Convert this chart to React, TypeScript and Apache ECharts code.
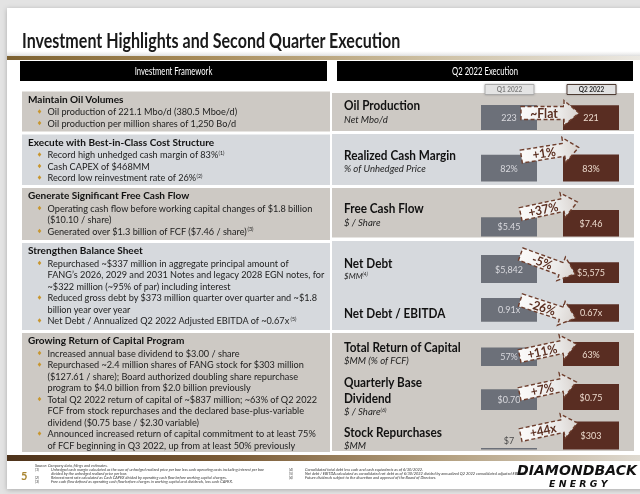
import React, { useEffect, useRef } from "react";
import * as echarts from "echarts";

// ---------- content ----------
const TITLE = "Investment Highlights and Second Quarter Execution";
const LEFT_HEADER = "Investment Framework";
const RIGHT_HEADER = "Q2 2022 Execution";
const periods = ["Q1 2022", "Q2 2022"];

const frameworkHeadings = [
  "Maintain Oil Volumes",
  "Execute with Best-in-Class Cost Structure",
  "Generate Significant Free Cash Flow",
  "Strengthen Balance Sheet",
  "Growing Return of Capital Program",
];
const frameworkBullets: string[][][] = [
  [["Oil production of 221.1 Mbo/d (380.5 Mboe/d)"], ["Oil production per million shares of 1,250 Bo/d"]],
  [["Record high unhedged cash margin of 83%{s|(1)}"], ["Cash CAPEX of $468MM"], ["Record low reinvestment rate of 26%{s|(2)}"]],
  [["Operating cash flow before working capital changes of $1.8 billion", "($10.10 / share)"], ["Generated over $1.3 billion of FCF ($7.46 / share){s|(3)}"]],
  [
    ["Repurchased ~$337 million in aggregate principal amount of", "FANG’s 2026, 2029 and 2031 Notes and legacy 2028 EGN notes, for", "~$322 million (~95% of par) including interest"],
    ["Reduced gross debt by $373 million quarter over quarter and ~$1.8", "billion year over year"],
    ["Net Debt / Annualized Q2 2022 Adjusted EBITDA of ~0.67x{s|(5)}"],
  ],
  [
    ["Increased annual base dividend to $3.00 / share"],
    ["Repurchased ~2.4 million shares of FANG stock for $303 million", "($127.61 / share); Board authorized doubling share repurchase", "program to $4.0 billion from $2.0 billion previously"],
    ["Total Q2 2022 return of capital of ~$837 million; ~63% of Q2 2022", "FCF from stock repurchases and the declared base-plus-variable", "dividend ($0.75 base / $2.30 variable)"],
    ["Announced increased return of capital commitment to at least 75%", "of FCF beginning in Q3 2022, up from at least 50% previously"],
  ],
];

const metricTitles = [["Oil Production"], ["Realized Cash Margin"], ["Free Cash Flow"], ["Net Debt"], ["Net Debt / EBITDA"], ["Total Return of Capital"], ["Quarterly Base", "Dividend"], ["Stock Repurchases"]];
const metricUnits = ["Net Mbo/d", "% of Unhedged Price", "$ / Share", "$MM{s|(4)}", "", "$MM (% of FCF)", "$ / Share{s|(6)}", "$MM"];
const q1Values = [223, 82, 5.45, 5842, 0.91, 57, 0.7, 7];
const q2Values = [221, 83, 7.46, 5575, 0.67, 63, 0.75, 303];
const q1Labels = ["223", "82%", "$5.45", "$5,842", "0.91x", "57%", "$0.70", "$7"];
const q2Labels = ["221", "83%", "$7.46", "$5,575", "0.67x", "63%", "$0.75", "$303"];
const changeLabels = ["~Flat", "+1%", "+37%", "-5%", "-26%", "+11%", "+7%", "+44x"];

const footSource = "Source: Company data, filings and estimates.";
const footLeft = [
  ["(1)", "Unhedged cash margin calculated as the sum of unhedged realized price per boe less cash operating costs including interest per boe", "divided by the unhedged realized price per boe."],
  ["(2)", "Reinvestment rate calculated as Cash CAPEX divided by operating cash flow before working capital changes."],
  ["(3)", "Free cash flow defined as operating cash flow before changes in working capital and dividends, less cash CAPEX."],
];
const footRight = [
  ["(4)", "Consolidated total debt less cash and cash equivalents as of 6/30/2022."],
  ["(5)", "Net debt / EBITDA calculated as consolidated net debt as of 6/30/2022 divided by annualized Q2 2022 consolidated adjusted EBITDA."],
  ["(6)", "Future dividends subject to the discretion and approval of the Board of Directors."],
];
const PAGE_NO = "5";
const LOGO_TOP = "DIAMONDBACK";
const LOGO_BOTTOM = "E N E R G Y";

// ---------- layout ----------
const leftPanels = [
  { top: 91.5, bottom: 131.5, warm: true },
  { top: 134.5, bottom: 185, warm: false },
  { top: 188, bottom: 240, warm: true },
  { top: 243, bottom: 330, warm: false },
  { top: 333, bottom: 452, warm: true },
];
const rightPanels = [
  { top: 93, bottom: 131, warm: true },
  { top: 134, bottom: 185, warm: false },
  { top: 188, bottom: 237.5, warm: true },
  { top: 241, bottom: 330, warm: false },
  { top: 333, bottom: 451, warm: true },
];
const metricText = [
  { ys: [105.5], unitY: 119.5 },
  { ys: [155], unitY: 169 },
  { ys: [208], unitY: 222.5 },
  { ys: [263.5], unitY: 276 },
  { ys: [313], unitY: 0 },
  { ys: [347.5], unitY: 360.5 },
  { ys: [382, 398.5], unitY: 412 },
  { ys: [432.5], unitY: 446 },
];
const barRows = [
  { base: 130, h: 25, min: 0, q1Out: false },
  { base: 181.5, h: 27, min: 0, q1Out: false },
  { base: 236.5, h: 26.5, min: 0, q1Out: false },
  { base: 283, h: 28, min: 4800, q1Out: false },
  { base: 329.5, h: 31.5, min: -0.3, q1Out: false },
  { base: 366, h: 24, min: 37, q1Out: false },
  { base: 410, h: 26, min: 0.5, q1Out: false },
  { base: 449.5, h: 28, min: 0, q1Out: true },
];
const arrowLayout = [
  { x: 550, y: 113, deg: 0 },
  { x: 550, y: 152, deg: 9 },
  { x: 549, y: 208, deg: 12 },
  { x: 548, y: 264, deg: -20 },
  { x: 548, y: 309, deg: -18 },
  { x: 548, y: 350, deg: 12 },
  { x: 548, y: 388, deg: 12 },
  { x: 549, y: 429, deg: 12 },
];

const F = "Lato, 'Open Sans', sans-serif";
const LOGO_F = "'DejaVu Sans', sans-serif";
const WARM = "#cdc9c4";
const COOL = "#d6d9dd";
const Q1C = "#6c7079";
const Q2C = "#592d22";
const GOLD = "#c8962e";

function measure(text: string, font: string): number {
  try {
    const c = document.createElement("canvas");
    const ctx = c.getContext("2d");
    if (!ctx) return 0;
    ctx.font = font;
    return ctx.measureText(text.replace(/\{s\|([^}]*)\}/g, "$1")).width;
  } catch (e) {
    return 0;
  }
}
function fit(target: number, text: string, font: string, lo = 0.7, hi = 1.1): number {
  const w = measure(text, font);
  if (!w) return 0.9;
  return Math.max(lo, Math.min(hi, target / w));
}

function T(x: number, y: number, text: string, o: any = {}) {
  const size = o.size ?? 9.5;
  const fill = o.fill ?? "#141414";
  const family = o.family ?? F;
  const align = o.align ?? "left";
  return {
    type: "text",
    x,
    y,
    z: o.z ?? 5,
    scaleX: o.sx ?? 1,
    rotation: o.rot ?? 0,
    silent: true,
    style: {
      text,
      fill,
      fontFamily: family,
      fontSize: size,
      fontWeight: o.weight ?? "normal",
      fontStyle: o.italic ? "italic" : "normal",
      textAlign: align,
      textVerticalAlign: "middle",
      align,
      verticalAlign: "middle",
      rich: {
        s: { fontSize: Math.max(3, size * 0.58), fill, fontFamily: family, fontStyle: o.italic ? "italic" : "normal", verticalAlign: "top" },
      },
    },
  };
}

export default function App() {
  const ref = useRef<HTMLDivElement>(null);

  useEffect(() => {
    if (!ref.current) return;
    const chart = echarts.init(ref.current, undefined, { renderer: "svg" });

    const titleSx = fit(379, TITLE, "bold 20px Lato");
    const headSx = fit(96, frameworkHeadings[0], "bold 10px Lato");
    const regSx = fit(190, frameworkBullets[0][0][0], "9.5px Lato");
    const rBoldSx = fit(112, metricTitles[1][0], "bold 12.5px Lato");
    const rItSx = fit(82, metricUnits[1], "italic 9.5px Lato");
    const hdrSx = fit(63, RIGHT_HEADER, "11px Lato");
    const footSx = fit(223, footLeft[0][1], "italic 3.6px Lato");
    const logoSx = fit(120, LOGO_TOP, "italic bold 14px 'DejaVu Sans'", 0.7, 1.3);

    const els: any[] = [];
    // page background and slide
    els.push({ type: "rect", z: 0, silent: true, shape: { x: 0, y: 0, width: 640, height: 494 }, style: { fill: "#e3e3e3" } });
    els.push({
      type: "rect", z: 0, silent: true, shape: { x: 7, y: 8, width: 640, height: 481 },
      style: { fill: "#ffffff", shadowBlur: 5, shadowColor: "rgba(0,0,0,0.25)", shadowOffsetX: 0, shadowOffsetY: 1 },
    });
    // title
    els.push(T(22, 40.5, TITLE, { size: 20, weight: "bold", sx: titleSx, fill: "#1a1a1a" }));
    // shade + gold underline
    els.push({
      type: "rect", z: 1, silent: true, shape: { x: 7, y: 51, width: 633, height: 5 },
      style: { fill: { type: "linear", x: 0, y: 0, x2: 0, y2: 1, colorStops: [{ offset: 0, color: "rgba(220,220,220,0)" }, { offset: 1, color: "rgba(200,200,200,0.6)" }] } },
    });
    els.push({
      type: "rect", z: 1, silent: true, shape: { x: 7, y: 56, width: 633, height: 4 },
      style: { fill: { type: "linear", x: 0, y: 0, x2: 1, y2: 0, colorStops: [{ offset: 0, color: "#7d6232" }, { offset: 0.3, color: "#a68a58" }, { offset: 0.65, color: "#cbbd9f" }, { offset: 1, color: "#ebe8e2" }] } },
    });
    // section headers
    els.push({ type: "rect", z: 1, silent: true, shape: { x: 20, y: 61, width: 307, height: 20 }, style: { fill: "#000" } });
    els.push(T(173.5, 71, LEFT_HEADER, { size: 11, fill: "#ffffff", align: "center", sx: hdrSx }));
    els.push({ type: "rect", z: 1, silent: true, shape: { x: 337, y: 61, width: 296, height: 20 }, style: { fill: "#000" } });
    els.push(T(485, 71, RIGHT_HEADER, { size: 11, fill: "#ffffff", align: "center", sx: hdrSx }));

    // left panels
    leftPanels.forEach((p, i) => {
      els.push({ type: "rect", z: 1, silent: true, shape: { x: 22, y: p.top, width: 308, height: p.bottom - p.top }, style: { fill: p.warm ? WARM : COOL } });
      const hy = p.top + 7.5;
      els.push(T(28, hy, frameworkHeadings[i], { size: 10, weight: "bold", sx: headSx, fill: "#111" }));
      let y = hy + 12.5;
      frameworkBullets[i].forEach((lines) => {
        els.push({
          type: "polygon", z: 5, silent: true,
          shape: { points: [[39.5, y - 2.2], [41.3, y], [39.5, y + 2.2], [37.7, y]] },
          style: { fill: GOLD },
        });
        lines.forEach((ln) => {
          els.push(T(47.5, y, ln, { size: 9.5, sx: regSx, fill: "#1c1c1c" }));
          y += 11.5;
        });
      });
    });

    // right panels
    rightPanels.forEach((p) => {
      els.push({ type: "rect", z: 1, silent: true, shape: { x: 332, y: p.top, width: 302, height: p.bottom - p.top }, style: { fill: p.warm ? WARM : COOL } });
    });
    // period boxes
    const boxes = [
      { x: 485, fill: "#e4e4e4", stroke: "#a9a9a9", text: "#7f7f7f" },
      { x: 567, fill: "#e2e2e2", stroke: "#4d3a33", text: "#2a2a2a" },
    ];
    boxes.forEach((b, i) => {
      els.push({ type: "rect", z: 3, silent: true, shape: { x: b.x, y: 84.5, width: 49, height: 10 }, style: { fill: b.fill, stroke: b.stroke, lineWidth: 1, shadowBlur: 2, shadowColor: "rgba(0,0,0,0.25)" } });
      els.push(T(b.x + 24.5, 89.5, periods[i], { size: 6.5, weight: "bold", fill: b.text, align: "center", z: 4 }));
    });
    // metric titles
    metricTitles.forEach((lines, i) => {
      const lay = metricText[i];
      lines.forEach((ln, k) => {
        els.push(T(344, lay.ys[k], ln, { size: 12.5, weight: "bold", sx: rBoldSx, fill: "#111" }));
      });
      if (metricUnits[i]) {
        const small = metricUnits[i].indexOf("{s|") >= 0 && i === 3;
        els.push(T(344, lay.unitY, metricUnits[i], { size: small ? 8 : 9.5, italic: true, sx: rItSx, fill: "#1e1e1e" }));
      }
    });

    // change arrows
    const pts = [[-29, -6.5], [14, -6.5], [14, -12.5], [29, 0], [14, 12.5], [14, 6.5], [-29, 6.5]];
    arrowLayout.forEach((a, i) => {
      els.push({
        type: "group", x: a.x, y: a.y, rotation: (a.deg * Math.PI) / 180, silent: true,
        children: [
          {
            type: "polygon", z: 10, shape: { points: pts },
            style: {
              fill: { type: "linear", x: 0, y: 0, x2: 1, y2: 0, colorStops: [{ offset: 0, color: "#fbfaf9" }, { offset: 0.65, color: "#ecebea" }, { offset: 1, color: "#d9d3cf" }] },
              stroke: "#6e3e2d", lineWidth: 1.4, lineDash: [4, 2.5],
            },
          },
          T(-6, 0, changeLabels[i], { size: i === 0 ? 13 : 12.5, weight: "bold", fill: "#5a2e20", align: "center", sx: rBoldSx, z: 11 }),
        ],
      });
    });

    // footer
    els.push({
      type: "rect", z: 1, silent: true, shape: { x: 7, y: 455, width: 633, height: 6 },
      style: { fill: { type: "linear", x: 0, y: 0, x2: 1, y2: 0, colorStops: [{ offset: 0, color: "#4e331b" }, { offset: 0.35, color: "#7b5c37" }, { offset: 0.7, color: "#b5a283" }, { offset: 1, color: "#dfdad1" }] } },
    });
    els.push(T(21, 475.5, PAGE_NO, { size: 11, weight: "bold", fill: "#a8842f" }));
    const fy = [465.5, 469.5, 473.5, 477.5, 481.5];
    els.push(T(35, fy[0], footSource, { size: 3.6, italic: true, fill: "#333", sx: footSx }));
    let row = 1;
    footLeft.forEach((n) => {
      els.push(T(35, fy[row], n[0], { size: 3.6, italic: true, fill: "#333" }));
      for (let k = 1; k < n.length; k++) {
        els.push(T(51, fy[row], n[k], { size: 3.6, italic: true, fill: "#333", sx: footSx }));
        row++;
      }
    });
    footRight.forEach((n, k) => {
      els.push(T(289, fy[k + 1], n[0], { size: 3.6, italic: true, fill: "#333" }));
      els.push(T(305, fy[k + 1], n[1], { size: 3.6, italic: true, fill: "#333", sx: footSx }));
    });
    els.push(T(517, 470.5, LOGO_TOP, { size: 14, weight: "bold", italic: true, family: LOGO_F, fill: "#111", sx: logoSx }));
    els.push(T(549, 484.5, LOGO_BOTTOM, { size: 8.5, weight: "bold", italic: true, family: LOGO_F, fill: "#111", sx: 1.1 }));

    const option: any = {
      animation: false,
      grid: barRows.map((r) => ({ left: 468, width: 164, top: r.base - r.h, height: r.h, containLabel: false })),
      xAxis: barRows.map((r, i) => ({ type: "category", gridIndex: i, data: periods, show: false })),
      yAxis: barRows.map((r, i) => ({ type: "value", gridIndex: i, min: r.min, max: Math.max(q1Values[i], q2Values[i]), show: false })),
      series: barRows.map((r, i) => ({
        type: "bar",
        xAxisIndex: i,
        yAxisIndex: i,
        barWidth: 56,
        barMinHeight: 1.5,
        silent: true,
        z: 2,
        data: [
          {
            value: q1Values[i],
            itemStyle: { color: Q1C },
            label: r.q1Out
              ? { show: true, position: "top", distance: 3, formatter: q1Labels[i], fontSize: 9, fontFamily: F, color: "#4a4a4a" }
              : { show: true, position: "inside", formatter: q1Labels[i], fontSize: 9, fontFamily: F, color: "#d9d9de" },
          },
          {
            value: q2Values[i],
            itemStyle: { color: Q2C },
            label: { show: true, position: "inside", formatter: q2Labels[i], fontSize: 9, fontFamily: F, color: "#ecdacd" },
          },
        ],
      })),
      graphic: { elements: els },
    };
    chart.setOption(option);
    return () => chart.dispose();
  }, []);

  return <div ref={ref} style={{ position: "fixed", left: 0, top: 0, width: 640, height: 494 }} />;
}
